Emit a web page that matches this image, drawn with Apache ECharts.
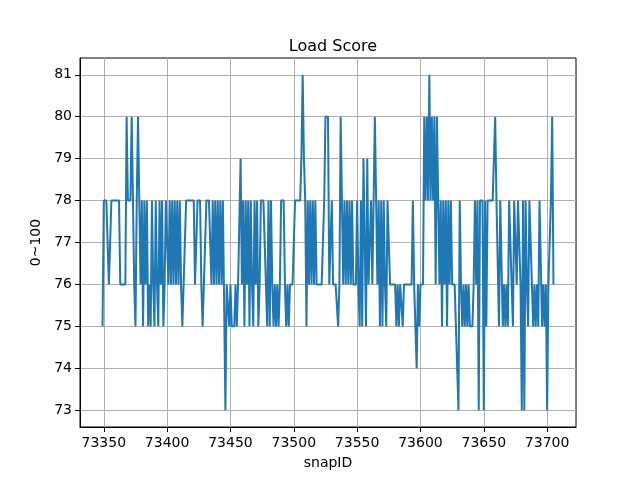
<!DOCTYPE html>
<html>
<head>
<meta charset="utf-8">
<script src="https://cdn.jsdelivr.net/npm/echarts@6/dist/echarts.min.js"></script>
<style>
  html, body { margin: 0; padding: 0; background: #fff; }
  #chart { width: 640px; height: 480px; }
</style>
</head>
<body>
<div id="chart"></div>
<script>
// snapID de la primera muestra; las siguientes son consecutivas
const firstSnap = 73349;

// Load Score por snapID (por tramos)
const scores = [
  // 73349 - 73367
  75, 78, 78, 78, 78, 76, 76, 78, 78, 78, 78, 78, 78, 78, 76, 76, 76, 76, 76,
  // 73368 - 73380
  80, 78, 78, 78, 80, 78, 76, 75, 78, 80, 78, 76, 78,
  // 73381 - 73410
  75, 78, 76, 78, 75, 76, 75, 78, 76, 75, 78, 76, 75, 78, 76, 78, 75, 76, 78, 78,
  76, 78, 76, 78, 76, 78, 76, 78, 76, 78,
  // 73411 - 73445
  76, 75, 76, 76, 78, 78, 78, 78, 78, 78, 78, 76, 76, 78, 78, 78, 76, 75, 76, 76,
  78, 78, 78, 78, 76, 78, 76, 78, 76, 78, 76, 78, 76, 78, 78,
  // 73446 - 73460
  73, 76, 76, 75, 76, 75, 75, 75, 76, 75, 76, 76, 79, 76, 78,
  // 73461 - 73500
  75, 78, 76, 78, 75, 78, 76, 75, 78, 76, 78, 75, 76,
  78, 78, 78, 78,
  76, 75, 78, 75, 78,
  76, 75, 76, 75, 76, 75,
  76, 78, 78, 78,
  76, 75, 76, 75, 76, 76, 76, 76,
  // 73501 - 73525
  78, 78, 78, 78, 78, 79, 81, 79, 78, 75, 78, 76, 78, 76, 78, 76, 78, 76, 76, 76,
  76, 76, 76, 78, 80,
  // 73526 - 73560
  80, 80, 76, 76, 78, 76, 76, 76, 76, 75, 76, 80, 78, 76, 78, 76, 78, 76, 78, 76,
  78, 76, 76, 76, 78, 76, 75, 78, 75, 79, 79, 75, 79, 76, 76,
  // 73561 - 73600
  78, 76, 78, 80, 78, 76, 78, 75, 78, 75, 78, 76, 75, 78, 78, 76, 76, 76, 76, 76,
  75, 76, 75, 76, 76, 75, 76, 76, 76, 76, 76, 76, 76, 78, 76, 76, 74, 76, 75, 76,
  // 73601 - 73630
  76, 76, 80, 78, 80, 78, 81, 78, 80, 78, 80, 76, 80, 78, 76, 78, 75, 78, 76, 78,
  75, 78, 76, 78, 76, 76, 76, 75, 75, 73,
  // 73631 - 73660
  78, 76, 75, 76, 75, 76, 75, 76, 75, 75, 75, 76, 78, 76, 78, 73, 78, 78, 78, 73,
  78, 75, 78, 78, 78, 78, 78, 78, 80, 78,
  // 73661 - 73705
  78, 75, 78, 78, 75, 76, 75, 76, 75, 78, 78, 76, 75, 78, 78, 76, 78, 78, 76, 73,
  78, 73, 78, 76, 75, 78, 78, 76, 75, 76, 75, 76, 75, 78, 78, 75, 76, 75, 76, 73,
  76, 76, 78, 80, 76
];

// Marcas de los ejes
const xTicks = [73350, 73400, 73450, 73500, 73550, 73600, 73650, 73700];
const yTicks = [73, 74, 75, 76, 77, 78, 79, 80, 81];

// Pares [snapID, score] para la serie
const puntos = scores.map((v, i) => [firstSnap + i, v]);

const gris = '#b0b0b0';
const fuente = 'DejaVu Sans';

let myChart = echarts.init(document.getElementById('chart'), null, { renderer: 'canvas' });
myChart.setOption({
    animation: false,
    backgroundColor: '#fff',
    title: {
        text: 'Load Score',
        left: 328,
        top: 34,
        textAlign: 'center',
        textStyle: { fontFamily: fuente, fontSize: 16, fontWeight: 'normal', color: '#000' }
    },
    grid: {
        left: 80,
        right: 64,
        top: 58,
        bottom: 53,
        show: true,
        borderColor: '#000',
        borderWidth: 1
    },
    xAxis: {
        type: 'value',
        min: 73331.2,
        max: 73722.8,
        name: 'snapID',
        nameLocation: 'middle',
        nameGap: 29,
        nameTextStyle: { fontFamily: fuente, fontSize: 14, color: '#000' },
        axisLine: { show: true, onZero: false, lineStyle: { color: '#000', width: 1 } },
        axisTick: { show: true, inside: false, length: 5, customValues: xTicks, lineStyle: { color: '#000' } },
        axisLabel: {
            customValues: xTicks,
            formatter: v => String(v),
            margin: 9, fontFamily: fuente, fontSize: 14, color: '#000'
        },
        splitLine: { show: true, lineStyle: { color: gris, width: 1 } }
    },
    yAxis: {
        type: 'value',
        min: 72.6,
        max: 81.4,
        name: '0~100',
        nameLocation: 'middle',
        nameGap: 33,
        nameTextStyle: { fontFamily: fuente, fontSize: 14, color: '#000' },
        axisLine: { show: true, onZero: false, lineStyle: { color: '#000', width: 1 } },
        axisTick: { show: true, inside: false, length: 5, customValues: yTicks, lineStyle: { color: '#000' } },
        axisLabel: { customValues: yTicks, margin: 8, fontFamily: fuente, fontSize: 14, color: '#000' },
        splitLine: { show: true, lineStyle: { color: gris, width: 1 } }
    },
    series: [
        {
            type: 'line',
            data: puntos,
            showSymbol: false,
            symbol: 'none',
            lineStyle: { color: '#1f77b4', width: 2 },
            itemStyle: { color: '#1f77b4' }
        }
    ]
});
</script>
</body>
</html>
